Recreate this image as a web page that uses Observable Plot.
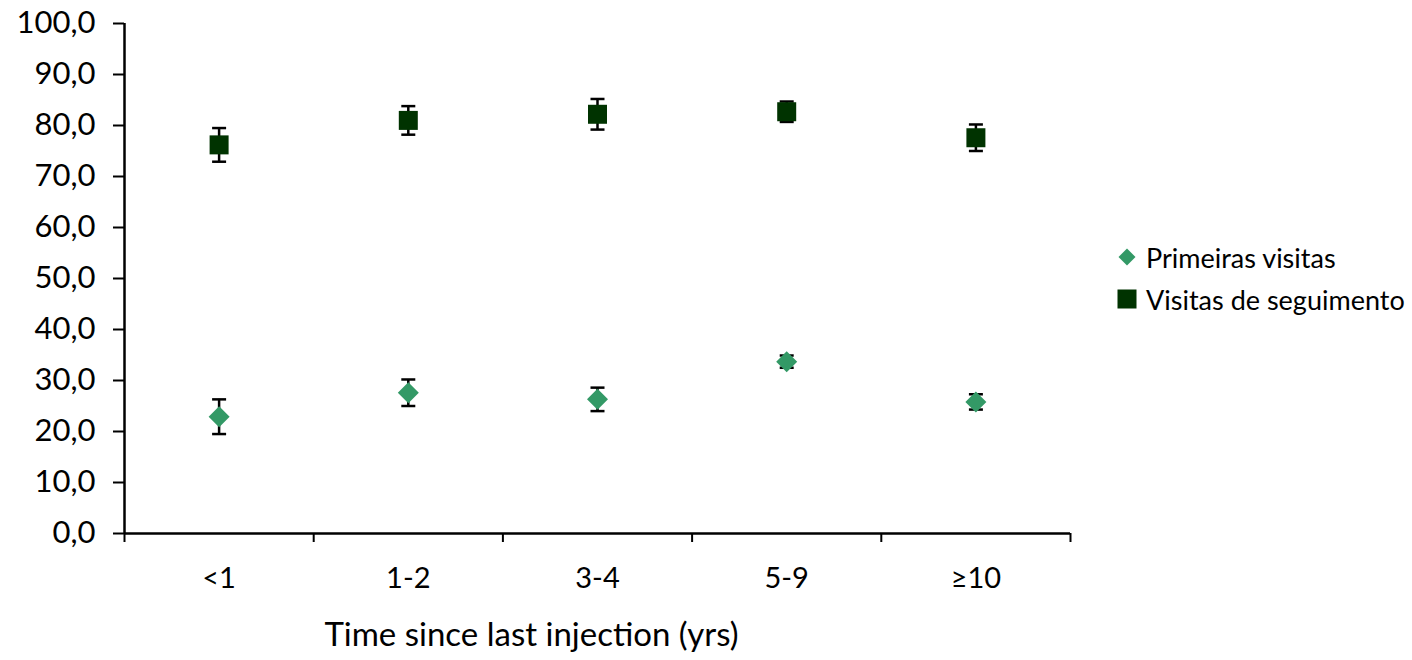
<!DOCTYPE html>
<html>
<head>
<meta charset="utf-8">
<script src="https://cdn.jsdelivr.net/npm/d3@7"></script>
<script src="https://cdn.jsdelivr.net/npm/@observablehq/plot@0.6"></script>
<style>
  html, body { margin: 0; padding: 0; background: #fff; }
  #wrap { position: relative; width: 1412px; height: 660px; font-family: Lato, "Open Sans", sans-serif; }
  #legend { position: absolute; left: 1117px; top: 236px; font-size: 27px; color: #000; }
  #legend .row { display: flex; align-items: center; height: 42px; }
  #legend svg { margin-right: 9px; }
</style>
</head>
<body>
<div id="wrap">
  <div id="chart"></div>
  <div id="legend"></div>
</div>
<script>
const categories = ["<1", "1-2", "3-4", "5-9", "≥10"];
const seriesNames = ["Primeiras visitas", "Visitas de seguimento"];
const primeirasValues = [22.9, 27.6, 26.3, 33.7, 25.8];
const primeirasErrors = [3.4, 2.6, 2.3, 1.2, 1.5];
const seguimentoValues = [76.2, 81.0, 82.2, 82.7, 77.6];
const seguimentoErrors = [3.3, 2.8, 3.0, 2.0, 2.6];
const yTicks = [0, 10, 20, 30, 40, 50, 60, 70, 80, 90, 100];
const xLabel = "Time since last injection (yrs)";

const colorPrim = "#339966";
const colorSeg = "#003300";

const rows = [];
categories.forEach((c, i) => {
  rows.push({i, cat: c, series: seriesNames[0], v: primeirasValues[i], e: primeirasErrors[i]});
  rows.push({i, cat: c, series: seriesNames[1], v: seguimentoValues[i], e: seguimentoErrors[i]});
});
const prim = rows.filter(d => d.series === seriesNames[0]);
const seg = rows.filter(d => d.series === seriesNames[1]);

// custom symbols: size = r*r*PI, so r = sqrt(size/PI)
const capSymbol = {draw(ctx, size) { const r = Math.sqrt(size / Math.PI); ctx.moveTo(-r, 0); ctx.lineTo(r, 0); }};
const squareSymbol = {draw(ctx, size) { const r = Math.sqrt(size / Math.PI); ctx.rect(-r, -r, 2 * r, 2 * r); }};
const diamondSymbol = {draw(ctx, size) { const r = Math.sqrt(size / Math.PI); ctx.moveTo(0, -r); ctx.lineTo(r, 0); ctx.lineTo(0, r); ctx.lineTo(-r, 0); ctx.closePath(); }};

const boundaries = d3.range(categories.length + 1).map(k => k - 0.5);
const fmt = d => d.toFixed(1).replace(".", ",");

const chart = Plot.plot({
  width: 1412,
  height: 660,
  marginLeft: 124,
  marginRight: 342,
  marginTop: 23,
  marginBottom: 127,
  style: {fontFamily: "Lato, 'Open Sans', sans-serif", background: "#fff", color: "#000"},
  x: {type: "linear", domain: [-0.5, categories.length - 0.5]},
  y: {domain: [0, 100]},
  marks: [
    Plot.axisY({ticks: yTicks, tickFormat: fmt, tickSize: 11, tickPadding: 18, fontSize: 31, label: null, strokeWidth: 2}),
    Plot.axisX({ticks: d3.range(categories.length), tickFormat: i => categories[i], tickSize: 0, tickPadding: 34, fontSize: 29, label: null}),
    Plot.axisX({ticks: boundaries, tickFormat: () => "", tickSize: 9, label: null, strokeWidth: 2}),
    Plot.ruleX([boundaries[0]], {stroke: "#000", strokeWidth: 2.5}),
    Plot.ruleY([0], {stroke: "#000", strokeWidth: 2.5}),
    // error bars
    Plot.ruleX(rows, {x: "i", y1: d => d.v - d.e, y2: d => d.v + d.e, stroke: "#000", strokeWidth: 2.5}),
    Plot.dot(rows, {x: "i", y: d => d.v + d.e, symbol: capSymbol, r: 7, stroke: "#000", strokeWidth: 2.5, fill: "none"}),
    Plot.dot(rows, {x: "i", y: d => d.v - d.e, symbol: capSymbol, r: 7, stroke: "#000", strokeWidth: 2.5, fill: "none"}),
    // markers
    Plot.dot(seg, {x: "i", y: "v", symbol: squareSymbol, r: 9.5, fill: colorSeg, stroke: null}),
    Plot.dot(prim, {x: "i", y: "v", symbol: diamondSymbol, r: 10.5, fill: colorPrim, stroke: null}),
    // x label
    Plot.text([xLabel], {frameAnchor: "bottom", dy: 112, dx: -66, fontSize: 33, fill: "#000"})
  ]
});
document.getElementById("chart").appendChild(chart);

const legend = document.getElementById("legend");
const legendItems = [
  {name: seriesNames[0], color: colorPrim, shape: "diamond"},
  {name: seriesNames[1], color: colorSeg, shape: "square"}
];
legendItems.forEach(it => {
  const row = document.createElement("div");
  row.className = "row";
  const shape = it.shape === "diamond"
    ? `<svg width="20" height="20" viewBox="0 0 20 20"><path d="M10,1.5L18.5,10L10,18.5L1.5,10Z" fill="${it.color}"/></svg>`
    : `<svg width="20" height="20" viewBox="0 0 20 20"><rect x="0.5" y="0.5" width="19" height="19" fill="${it.color}"/></svg>`;
  row.innerHTML = shape + `<span>${it.name}</span>`;
  legend.appendChild(row);
});
</script>
</body>
</html>
